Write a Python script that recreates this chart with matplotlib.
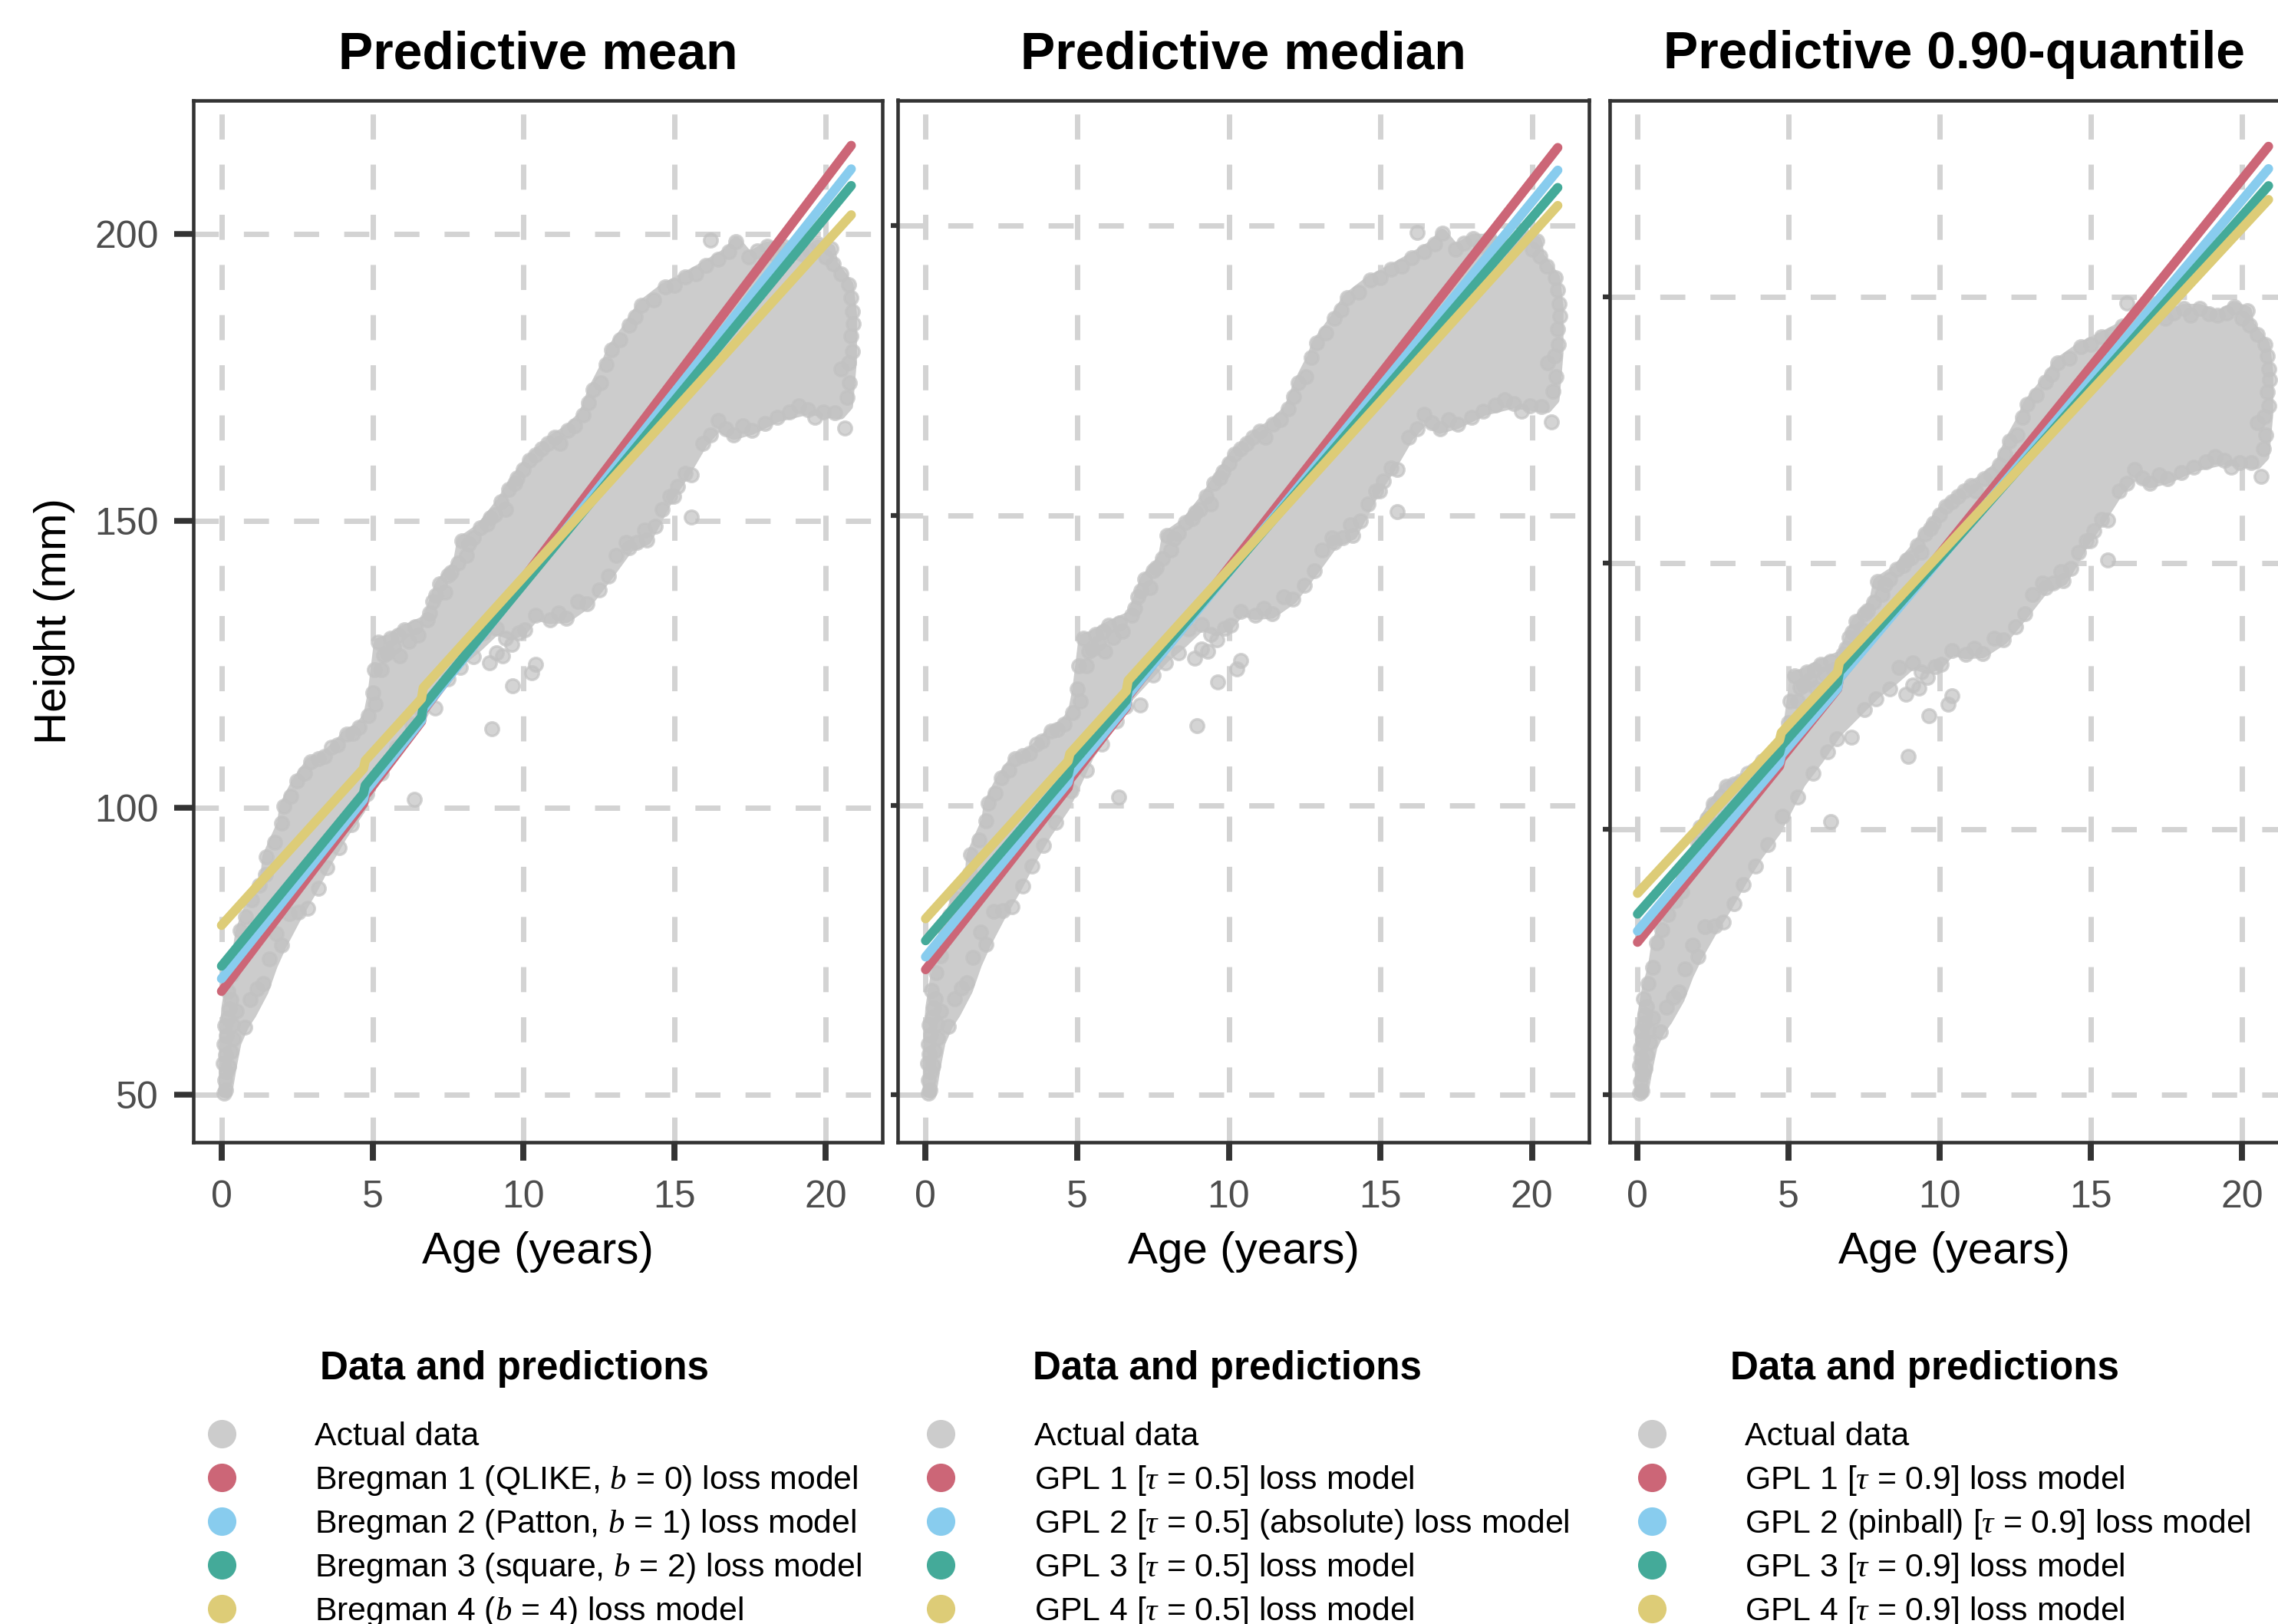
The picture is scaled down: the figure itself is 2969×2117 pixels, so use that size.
import numpy as np
import matplotlib
matplotlib.use("Agg")
import matplotlib.pyplot as plt
from matplotlib.lines import Line2D

plt.rcParams['font.family'] = ['Liberation Sans', 'DejaVu Sans']
plt.rcParams['mathtext.fontset'] = 'custom'
plt.rcParams['mathtext.it'] = 'Liberation Serif:italic'
plt.rcParams['mathtext.rm'] = 'Liberation Sans'

# ---------------- data ----------------
panel_titles = ["Predictive mean", "Predictive median", "Predictive 0.90-quantile"]
x_ticks = [0, 5, 10, 15, 20]
y_ticks = [50, 100, 150, 200]

# dense core of the observed (age, height) cloud: upper and lower envelope
cloud_upper_age = [0.06, 0.08, 0.15, 0.3, 0.5, 0.62, 1.0, 1.46, 1.5, 2.0, 2.07, 2.5, 2.95, 3.42, 3.85,
                   4.14, 4.56, 4.85, 5.0, 5.2, 5.6, 6.05, 6.81, 7.23, 7.82, 7.95, 8.58, 9.26, 9.51, 10.19,
                   11.03, 11.46, 11.97, 12.3, 12.73, 12.9, 13.49, 13.91, 14.68, 15.35, 16.03, 16.79, 17.04,
                   17.47, 18.06, 18.6, 19.2, 19.75, 20.17, 20.26, 20.77, 20.88]
cloud_upper_hgt = [50.3, 58, 65, 70, 74, 78.6, 83.9, 88.3, 91.4, 97.3, 100.3, 104.7, 108, 109, 111,
                   112.8, 114, 116, 120, 128.8, 129.5, 131, 132.8, 139, 142.6, 146.5, 148.8, 153.3, 155.5, 160.6,
                   164.5, 165.8, 168.4, 172.9, 177.3, 179.8, 184, 187.6, 190.7, 192.5, 194.5, 196.9, 198.7,
                   196, 197.8, 197.8, 196.5, 198.2, 197.4, 194.7, 191.1, 186]
cloud_lower_age = [20.88, 20.75, 20.5, 19.92, 19.41, 18.4, 17.55, 16.96, 16.45, 15.94, 15.35, 14.84, 14.08,
                   13.49, 12.81, 12.1, 11.42, 10.87, 10.4, 10.0, 9.6, 9.1, 8.5, 7.9, 7.3, 6.6, 6.0, 5.4, 5.0,
                   4.6, 4.0, 3.5, 3.0, 2.5, 2.0, 1.7, 1.4, 1.0, 0.75, 0.5, 0.35, 0.2]
cloud_lower_hgt = [178, 170, 168.5, 168.9, 169.3, 168, 165.8, 164.9, 166.5, 163.5, 158.2, 154.2, 146.6,
                   145.3, 140.4, 135.5, 133, 132.8, 133.5, 131, 130, 131, 128, 125.4, 122, 118, 113, 108.5, 104,
                   99.6, 95, 90.5, 85.5, 81, 76, 72.5, 68, 64, 62, 59, 55, 50.3]

# individual observations on the rim of the cloud and outliers
pts_age = [0.08, 0.14, 0.10, 0.16, 0.07, 0.13, 0.09, 0.17, 0.11, 0.21, 0.26, 0.31, 0.36, 0.40, 0.30, 0.24,
           0.50, 0.76, 0.95, 1.18, 1.37, 1.57, 1.81, 2.24, 2.0, 2.55, 2.85, 3.2, 3.5, 3.9, 4.3, 4.8, 5.3,
           5.8, 6.3, 6.6, 7.07, 7.5, 7.9, 8.35, 8.66, 9.1, 9.4,
           0.2, 0.35, 0.5, 0.62, 0.8, 1.0, 1.25, 1.46, 1.48, 1.75, 2.0, 2.07, 2.3, 2.5, 2.75, 2.95, 3.2,
           3.42, 3.65, 3.85, 4.14, 4.35, 4.56, 4.85,
           5.0, 5.05, 5.2, 5.37, 5.6, 5.85, 6.05, 6.4, 6.81, 7.0, 7.23, 7.5, 7.82, 7.95, 8.2, 8.58, 8.9,
           9.26, 9.51, 9.8, 10.19, 10.6, 11.03, 11.46, 11.97, 12.15, 12.3, 12.55, 12.73, 12.9, 13.2, 13.49,
           13.7, 13.91, 14.3, 14.68, 15.0, 15.35, 15.7, 16.03, 16.2, 16.45, 16.79, 17.04, 17.47, 17.75,
           18.06, 18.3, 18.6, 18.9, 19.2, 19.5, 19.75, 20.0, 20.17, 20.26, 20.5, 20.77, 20.85, 20.9, 20.92,
           20.85, 20.88, 20.75, 20.51, 20.8, 20.7, 20.64,
           5.1, 5.3, 5.5, 5.7, 5.9, 6.2, 6.5, 6.9, 7.1, 7.4, 7.6, 8.1, 8.35, 8.8, 9.05, 9.4, 9.7, 10.0,
           10.4, 10.8, 11.2, 11.7,
           20.3, 19.92, 19.65, 19.41, 19.1, 18.8, 18.4, 18.0, 17.55, 17.25, 16.96, 16.7, 16.45, 16.2, 15.94,
           15.56, 15.35, 15.56, 15.1, 14.97, 14.84, 14.6, 14.35, 14.08, 14.0, 13.75, 13.49, 13.4, 13.07,
           12.81, 12.5, 12.1, 11.8, 11.42, 11.15, 10.87, 10.4, 10.05, 9.85,
           10.40, 10.27, 9.64, 8.88, 8.96, 6.38, 9.3, 9.6, 9.1]
pts_hgt = [50.3, 50.8, 52.5, 54.0, 55.5, 57.0, 58.8, 60.3, 62.0, 63.4, 65.0, 66.6, 62.2, 59.8, 57.5, 55.0,
           64.5, 61.8, 66.5, 68.4, 69.4, 73.7, 78.1, 81.6, 76.0, 81.8, 82.5, 86.0, 89.5, 93.0, 97.0, 102.4, 106.0,
           110.5, 114.5, 117.0, 117.3, 122.5, 124.5, 126.3, 130.4, 131.2, 129.5,
           68.0, 71.0, 74.0, 78.6, 81.0, 83.9, 86.5, 88.3, 91.4, 94.0, 97.3, 100.3, 102.0, 104.7, 106.0, 108.0, 108.5,
           109.0, 110.5, 111.0, 112.8, 113.0, 114.0, 116.0,
           120.0, 124.0, 128.8, 126.6, 129.5, 130.0, 131.0, 131.5, 132.8, 136.0, 139.0, 140.5, 142.6, 146.5, 146.0, 148.8, 150.5,
           153.3, 155.5, 157.5, 160.6, 162.5, 164.5, 165.8, 168.4, 170.5, 172.9, 174.0, 177.3, 179.8, 181.5, 184.0,
           185.5, 187.6, 188.5, 190.7, 191.0, 192.5, 193.0, 194.5, 198.9, 195.5, 196.9, 198.7, 196.0, 197.0,
           197.8, 196.5, 197.8, 196.8, 196.5, 197.0, 198.2, 196.0, 197.4, 194.7, 193.0, 191.1, 188.9, 186.5, 184.4,
           182.2, 179.5, 177.5, 176.4, 174.0, 171.5, 166.2,
           118, 124, 127, 128, 126.5, 129, 130, 134, 137, 137.5, 141, 144, 147, 149.5, 151, 152, 156.5, 159,
           161.5, 163.5, 163.5, 166.5,
           168.8, 168.9, 168.0, 169.3, 170.0, 169.0, 168.0, 167.0, 165.8, 166.5, 164.9, 166.0, 167.5, 165.0, 163.5,
           158.0, 158.2, 150.6, 156.0, 154.2, 154.2, 152.0, 149.0, 146.6, 148.4, 146.2, 145.3, 146.2, 144.0,
           140.4, 138.0, 135.5, 135.9, 133.0, 134.0, 132.8, 133.5, 131.0, 130.5,
           125.0, 123.5, 121.3, 125.3, 113.7, 101.4, 126.5, 128.5, 127.0]

# model predictions (age breakpoints shared, heights per panel and model)
pred_age = [0.0, 4.70, 4.76, 6.62, 6.68, 20.85]
pred_mean = {
    "Bregman 1": [68.0, 100.7, 102.1, 115.0, 116.9, 215.4],
    "Bregman 2": [70.2, 101.4, 102.8, 115.2, 117.1, 211.3],
    "Bregman 3": [72.4, 102.5, 103.9, 115.8, 117.7, 208.4],
    "Bregman 4": [79.5, 106.8, 108.2, 119.0, 120.9, 203.3],
}
pred_median = {
    "GPL 1": [71.6, 103.0, 104.4, 116.9, 118.8, 213.5],
    "GPL 2": [73.8, 103.9, 105.2, 117.1, 119.0, 209.6],
    "GPL 3": [76.6, 105.3, 106.7, 118.1, 120.0, 206.6],
    "GPL 4": [80.4, 107.6, 108.9, 119.7, 121.5, 203.5],
}
pred_q90_age = [0.0, 4.70, 4.76, 6.62, 6.68, 20.88]
pred_q90 = {
    "GPL 1": [78.7, 111.8, 113.2, 126.3, 128.3, 228.3],
    "GPL 2": [80.8, 112.5, 113.9, 126.4, 128.3, 224.1],
    "GPL 3": [84.0, 114.3, 115.6, 127.6, 129.5, 220.9],
    "GPL 4": [87.9, 116.7, 118.1, 129.5, 131.3, 218.3],
}

legend_title = "Data and predictions"
legend_labels = [
    ["Actual data", "Bregman 1 (QLIKE, $b$ = 0) loss model", "Bregman 2 (Patton, $b$ = 1) loss model",
     "Bregman 3 (square, $b$ = 2) loss model", "Bregman 4 ($b$ = 4) loss model"],
    ["Actual data", r"GPL 1 [$\tau$ = 0.5] loss model", r"GPL 2 [$\tau$ = 0.5] (absolute) loss model",
     r"GPL 3 [$\tau$ = 0.5] loss model", r"GPL 4 [$\tau$ = 0.5] loss model"],
    ["Actual data", r"GPL 1 [$\tau$ = 0.9] loss model", r"GPL 2 (pinball) [$\tau$ = 0.9] loss model",
     r"GPL 3 [$\tau$ = 0.9] loss model", r"GPL 4 [$\tau$ = 0.9] loss model"],
]

# ---------------- style ----------------
W, H = 2969, 2117
DPI = 300
point_col = "#CCCCCC"
model_cols = ["#CC6677", "#88CCEE", "#44AA99", "#DDCC77"]
grid_col = "#D3D3D3"
frame_col = "#333333"

fig = plt.figure(figsize=(W / DPI, H / DPI), dpi=DPI)

def fx(px):
    return px / W

def fy(py):
    return 1 - py / H

top_px, bot_px = 130.5, 1489
panel_left = [252.5, 1170, 2098]
panel_width = [897.5, 901, 898]
ylims = [(41.7, 223.3), (41.8, 221.7), (41.1, 237.0)]
preds = [(pred_age, pred_mean), (pred_age, pred_median), (pred_q90_age, pred_q90)]

axes = []
for i in range(3):
    ax = fig.add_axes([fx(panel_left[i]), fy(bot_px), fx(panel_width[i]), (bot_px - top_px) / H])
    axes.append(ax)
    ax.set_xlim(-0.92, 21.88)
    ax.set_ylim(*ylims[i])
    ax.set_xticks(x_ticks)
    ax.set_yticks(y_ticks)
    ax.set_axisbelow(True)
    ax.grid(True, color=grid_col, lw=1.68, linestyle=(0, (4.67, 4.67)))
    for s in ax.spines.values():
        s.set_color(frame_col)
        s.set_linewidth(1.1)
    ax.tick_params(axis='x', length=5.8, width=1.9, color=frame_col, labelsize=12,
                   labelcolor="#4D4D4D", pad=6.0)
    if i == 0:
        ax.tick_params(axis='y', length=6.0, width=1.8, color=frame_col, labelsize=12,
                       labelcolor="#4D4D4D", pad=5.0)
    else:
        ax.tick_params(axis='y', length=2.2, width=1.5, color=frame_col, labelleft=False)

    # cloud of observed data
    ax.fill(cloud_upper_age + cloud_lower_age, cloud_upper_hgt + cloud_lower_hgt,
            facecolor=point_col, edgecolor=point_col, lw=3.0, joinstyle='round', zorder=1)
    ax.scatter(pts_age, pts_hgt, s=18, color="#C2C2C2", alpha=0.7, linewidths=0.8,
               edgecolors="#C2C2C2", zorder=2)
    ages, series = preds[i]
    for col, (name, vals) in zip(model_cols, series.items()):
        ax.plot(ages, vals, color=col, lw=2.9, solid_capstyle='round', solid_joinstyle='round', zorder=3)

    cx = panel_left[i] + panel_width[i] / 2
    fig.text(fx(cx), fy(89.3), panel_titles[i], ha='center', va='baseline',
             fontsize=16.3, fontweight='bold', color='black')
    fig.text(fx(cx), fy(1647), "Age (years)", ha='center', va='baseline', fontsize=14, color='black')

fig.text(fx(86), fy(810), "Height (mm)", rotation=90, rotation_mode='anchor',
         ha='center', va='baseline', fontsize=14, color='black')

# ---------------- legends ----------------
leg_marker_x = [288.5, 1226, 2153]
leg_label_x = [410.5, 1347.5, 2274.5]
leg_title_x = [417, 1346, 2255]
row_centers = [1869, 1926, 1983, 2040, 2097]
leg_colors = [point_col] + model_cols
for k in range(3):
    fig.text(fx(leg_title_x[k]), fy(1798.3), legend_title, ha='left', va='baseline',
             fontsize=12.3, fontweight='bold', color='black')
    for r in range(5):
        fig.add_artist(Line2D([fx(leg_marker_x[k])], [fy(row_centers[r])], marker='o', ms=8.9,
                              mew=0, color=leg_colors[r], transform=fig.transFigure))
        fig.text(fx(leg_label_x[k]), fy(row_centers[r] + 15.3), legend_labels[k][r], ha='left',
                 va='baseline', fontsize=10.25, color='black')

fig.savefig("out.png", dpi=DPI)
